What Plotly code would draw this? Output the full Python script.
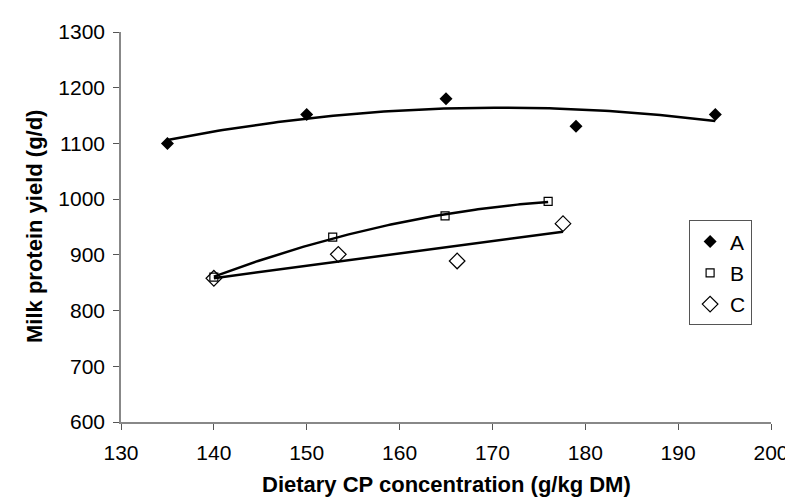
import numpy as np
import plotly.graph_objects as go

# Data
a_x = [135, 150, 165, 179, 194]
a_y = [1100, 1152, 1180, 1131, 1152]
b_x = [140, 152.8, 164.9, 176]
b_y = [860, 932, 970, 996]
c_x = [140, 153.4, 166.2, 177.6]
c_y = [858, 901, 889, 956]

x_ticks = [130, 140, 150, 160, 170, 180, 190, 200]
y_ticks = [600, 700, 800, 900, 1000, 1100, 1200, 1300]

FONT = "Liberation Sans, Arial, sans-serif"

def trend(xs, ys, deg):
    coef = np.polyfit(xs, ys, deg)
    xx = np.linspace(min(xs), max(xs), 120)
    return xx, np.polyval(coef, xx)

fig = go.Figure()

for xs, ys, deg in [(a_x, a_y, 2), (b_x, b_y, 2), (c_x, c_y, 1)]:
    tx, ty = trend(xs, ys, deg)
    fig.add_trace(go.Scatter(x=tx, y=ty, mode="lines", line=dict(color="black", width=2.5),
                             showlegend=False, hoverinfo="skip"))

fig.add_trace(go.Scatter(x=a_x, y=a_y, mode="markers", name="A", legendgroup="A",
                         marker=dict(symbol="diamond", size=10, color="black")))
fig.add_trace(go.Scatter(x=b_x, y=b_y, mode="markers", name="B", legendgroup="B",
                         marker=dict(symbol="square-open", size=8, color="black",
                                     line=dict(width=1.2, color="black"))))
fig.add_trace(go.Scatter(x=c_x, y=c_y, mode="markers", name="C", legendgroup="C",
                         marker=dict(symbol="diamond-open", size=12, color="black",
                                     line=dict(width=1.2, color="black"))))

axis_common = dict(showline=True, linecolor="#888888", linewidth=1.5, ticks="outside",
                   ticklen=6, tickcolor="#555555", tickwidth=1, showgrid=False, zeroline=False,
                   tickfont=dict(family=FONT, size=21, color="black"))

fig.update_xaxes(range=[130, 200], tickvals=x_ticks, ticktext=[str(v) for v in x_ticks],
                 ticklabelstandoff=5, **axis_common)
fig.update_yaxes(range=[600, 1300], tickvals=y_ticks, ticktext=[str(v) for v in y_ticks],
                 ticklabelstandoff=4, **axis_common)

fig.add_annotation(text="<b>Dietary CP concentration (g/kg DM)</b>", xref="paper", yref="paper",
                   x=0.5, y=0, yshift=-62, showarrow=False, xanchor="center", yanchor="middle",
                   font=dict(family=FONT, size=22, color="black"))
fig.add_annotation(text="<b>Milk protein yield (g/d)</b>", xref="paper", yref="paper",
                   x=0, xshift=-87, y=0.5, textangle=-90, showarrow=False,
                   xanchor="center", yanchor="middle",
                   font=dict(family=FONT, size=22, color="black"))

fig.update_layout(
    width=793, height=498,
    margin=dict(l=113, r=21, t=23, b=84),
    paper_bgcolor="white", plot_bgcolor="white",
    legend=dict(x=0.874, y=0.517, xanchor="left", yanchor="top",
                bordercolor="#555555", borderwidth=1, bgcolor="white",
                font=dict(family=FONT, size=21, color="black"),
                traceorder="grouped", tracegroupgap=1, itemwidth=30),
    showlegend=True,
)

fig.write_html("out.html")
